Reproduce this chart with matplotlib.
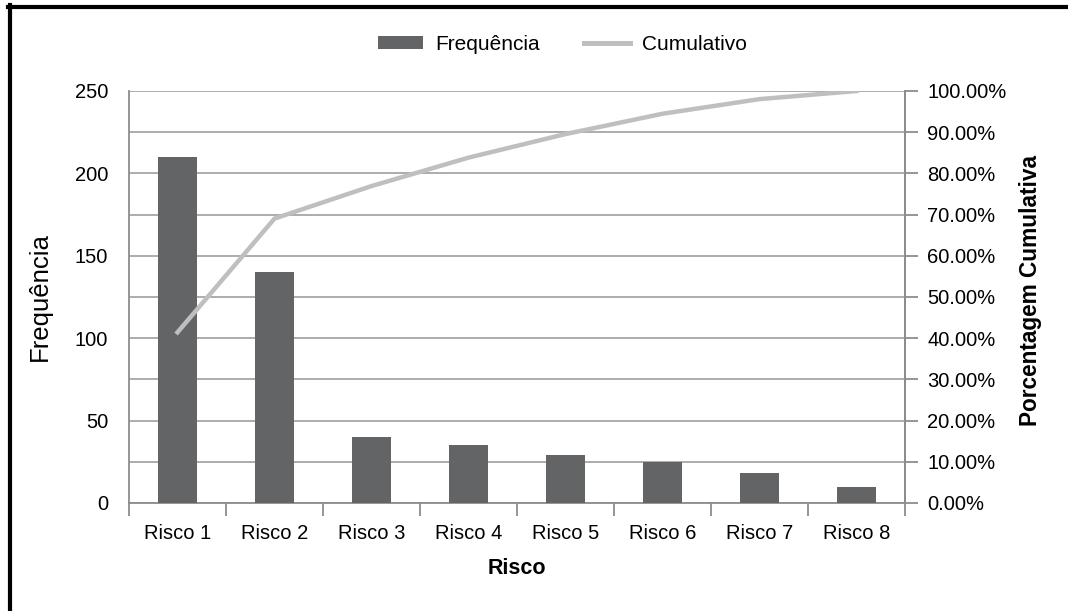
import numpy as np
import matplotlib.pyplot as plt
from matplotlib.lines import Line2D
from matplotlib.patches import Patch
from matplotlib.ticker import FixedLocator, NullFormatter

plt.rcParams['font.family'] = ['Liberation Sans', 'DejaVu Sans']

# data
riscos = ['Risco 1', 'Risco 2', 'Risco 3', 'Risco 4', 'Risco 5', 'Risco 6', 'Risco 7', 'Risco 8']
frequencia = [210, 140, 40, 35, 29, 25, 18, 10]
cumulativo = np.cumsum(frequencia) / np.sum(frequencia) * 100

bar_color = '#636466'
line_color = '#bfbfbf'
grid_color = '#a6a6a6'
spine_color = '#8c8c8c'

fig = plt.figure(figsize=(10.68, 6.11), dpi=100)
W, H = 1068, 611
ax = fig.add_axes([129 / W, 1 - 503 / H, (905 - 129) / W, (503 - 91) / H])

x = np.arange(len(riscos))
ax.bar(x, frequencia, width=0.4, color=bar_color, zorder=3)
ax.set_xlim(-0.5, len(riscos) - 0.5)
ax.set_ylim(0, 250)
ax.set_yticks(np.arange(0, 251, 50))
ax.yaxis.set_minor_locator(FixedLocator(np.arange(25, 250, 50)))
ax.tick_params(axis='y', which='both', length=0, labelsize=14.5, pad=15)
ax.set_axisbelow(True)
ax.grid(axis='y', which='both', color=grid_color, linewidth=1.3)

# category labels between boundary ticks
ax.set_xticks(np.arange(-0.5, len(riscos), 1))
ax.xaxis.set_major_formatter(NullFormatter())
ax.tick_params(axis='x', which='major', length=9, color=spine_color, width=1.3)
ax.set_xticks(x, minor=True)
ax.set_xticklabels(riscos, minor=True)
ax.tick_params(axis='x', which='minor', length=0, labelsize=14.5, pad=15)

ax.spines['top'].set_visible(False)
for s in ['left', 'bottom', 'right']:
    ax.spines[s].set_color(spine_color)
    ax.spines[s].set_linewidth(1.3)

ax.set_ylabel('Frequência', fontsize=18.5)
ax.yaxis.set_label_coords((52 - 129) / 776, 0.5)
ax.set_xlabel('Risco', fontsize=15.5, fontweight='bold')
ax.xaxis.set_label_coords(0.5, -(558 - 503) / 412)

ax2 = ax.twinx()
ax2.plot(x, cumulativo, color=line_color, linewidth=3.2, zorder=4)
ax2.set_ylim(0, 100)
ax2.set_yticks(np.arange(0, 101, 10))
ax2.set_yticklabels(['%.2f%%' % v for v in np.arange(0, 101, 10)])
ax2.tick_params(axis='y', length=9, color=spine_color, width=1.3, labelsize=14.5, pad=7)
for s in ['top', 'left', 'bottom']:
    ax2.spines[s].set_visible(False)
ax2.spines['right'].set_color(spine_color)
ax2.spines['right'].set_linewidth(1.3)
ax2.set_ylabel('Porcentagem Cumulativa', fontsize=16.3, fontweight='bold')
ax2.yaxis.set_label_coords((1019 - 129) / 776, 1 - (290 - 91) / 412)

handles = [Patch(facecolor=bar_color, label='Frequência'),
           Line2D([], [], color=line_color, linewidth=3.6, label='Cumulativo')]
fig.legend(handles=handles, loc='center', bbox_to_anchor=(562 / W, 1 - 44 / H), ncol=2,
           frameon=False, fontsize=15, handlelength=2.2, handleheight=0.58,
           columnspacing=2.15, handletextpad=0.55)

# outer frame (top and left edges)
fig.add_artist(Line2D([8 / W, 1], [1 - 7 / H, 1 - 7 / H], color='black', linewidth=3,
                      transform=fig.transFigure))
fig.add_artist(Line2D([10 / W, 10 / W], [0, 1 - 5 / H], color='black', linewidth=3,
                      transform=fig.transFigure))

fig.savefig('out.png', dpi=100)
